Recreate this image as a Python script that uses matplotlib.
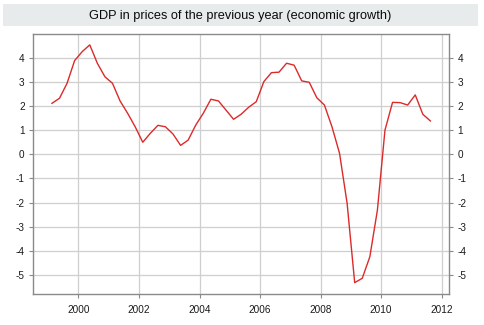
import matplotlib.pyplot as plt
import matplotlib.patches as mpatches
import numpy as np

# Crescimento trimestral do PIB (% em relação ao ano anterior), 1999T1 - 2011T3
anos = list(range(1999, 2012))
pib = [
    2.11, 2.32, 2.94, 3.88,     # 1999
    4.25, 4.53, 3.77, 3.21,     # 2000
    2.94, 2.21, 1.70, 1.14,     # 2001
    0.50, 0.87, 1.20, 1.14,     # 2002
    0.84, 0.37, 0.59, 1.21,     # 2003
    1.70, 2.28, 2.21, 1.83,     # 2004
    1.45, 1.66, 1.95, 2.18,     # 2005
    3.01, 3.38, 3.40, 3.77,     # 2006
    3.69, 3.04, 2.98, 2.34,     # 2007
    2.04, 1.14, 0.04, -2.03,    # 2008
    -5.31, -5.13, -4.24, -2.31, # 2009
    1.00, 2.15, 2.14, 2.04,     # 2010
    2.46, 1.66, 1.38,           # 2011
]
x_ticks = [2000, 2002, 2004, 2006, 2008, 2010, 2012]
y_ticks = [-5, -4, -3, -2, -1, 0, 1, 2, 3, 4]
titulo = 'GDP in prices of the previous year (economic growth)'

# datas no meio de cada trimestre
datas = [a + (q - 0.5) / 4 for a in anos for q in range(1, 5)][:len(pib)]

plt.rcParams['font.family'] = ['Liberation Sans', 'DejaVu Sans']
plt.rcParams['axes.unicode_minus'] = False

fig = plt.figure(figsize=(4.85, 3.25), dpi=100, facecolor='white')

# faixa cinza do título
fig.patches.append(mpatches.Rectangle((3 / 485, 1 - 26 / 325), 475 / 485, 22 / 325,
                                      transform=fig.transFigure, facecolor='#e7ebeb',
                                      edgecolor='none', zorder=0))
fig.text(0.495, 1 - 15.5 / 325, titulo, ha='center', va='center',
         fontsize=9.2, color='#0a0a0a')

ax = fig.add_axes([33 / 485, 31 / 325, 416 / 485, 260 / 325])
ax.plot(datas, pib, color='#dc2a2a', lw=1.0, zorder=3)

ax.set_xlim(1998.5, 2012.24)
ax.set_ylim(-5.78, 4.98)
ax.set_xticks(x_ticks)
ax.set_yticks(y_ticks)
ax.grid(True, color='#cfcfcf', lw=0.9)
ax.set_axisbelow(True)

for s in ax.spines.values():
    s.set_color('#8a8a8a')
    s.set_linewidth(1.0)

ax.tick_params(axis='both', direction='out', length=3, width=0.8, color='#8a8a8a',
               labelsize=7.2, labelcolor='#1a1a1a')
ax.tick_params(axis='y', left=True, right=True, labelleft=True, labelright=True, pad=3)
ax.tick_params(axis='x', pad=5)

fig.savefig('out.png', dpi=100, facecolor=fig.get_facecolor())
